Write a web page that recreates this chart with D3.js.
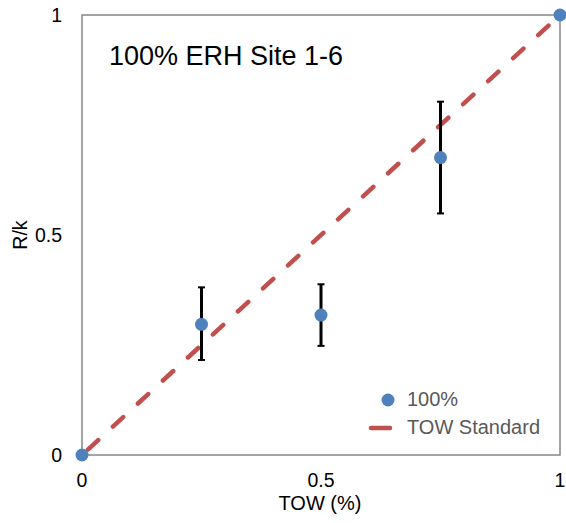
<!doctype html>
<html lang="en">
<head>
    <meta charset="UTF-8">
    <title>d3</title>
    <script src="https://d3js.org/d3.v7.min.js"></script>
    <style>
        body { margin: 0; background: #fff; }
        text { font-family: "Liberation Sans", Arial, sans-serif; fill: #000; }
    </style>
</head>
<body>
<div class="canvas"></div>
</body>

<script>
  // data
  const tow = [0, 0.25, 0.5, 0.75, 1];
  const rk = [0, 0.297, 0.318, 0.676, 1];
  const rkHigh = [null, 0.381, 0.388, 0.803, null];
  const rkLow = [null, 0.216, 0.248, 0.549, null];
  const standardX = [0, 1];
  const standardY = [0, 1];
  const ticks = [0, 0.5, 1];

  const svg = d3.select('.canvas')
    .append('svg')
    .attr('width', 566)
    .attr('height', 523)

  const x = d3.scaleLinear().domain([0, 1]).range([82, 560]);
  const y = d3.scaleLinear().domain([0, 1]).range([455, 15]);

  // plot frame
  svg.append('rect')
    .attr('x', x(0)).attr('y', y(1))
    .attr('width', x(1) - x(0)).attr('height', y(0) - y(1))
    .attr('fill', 'none')
    .attr('stroke', '#878787')
    .attr('stroke-width', 1.5)

  // tick labels
  svg.selectAll('.xt')
    .data(ticks)
    .join('text')
    .attr('class', 'xt')
    .attr('x', d => x(d))
    .attr('y', 487)
    .attr('text-anchor', 'middle')
    .attr('font-size', '19.5px')
    .text(d => d)

  svg.selectAll('.yt')
    .data(ticks)
    .join('text')
    .attr('class', 'yt')
    .attr('x', 62)
    .attr('y', d => y(d) + 7)
    .attr('text-anchor', 'end')
    .attr('font-size', '19.5px')
    .text(d => d)

  svg.append('text')
    .attr('x', 320).attr('y', 510)
    .attr('text-anchor', 'middle')
    .attr('font-size', '20px')
    .text('TOW (%)')

  svg.append('text')
    .attr('transform', 'translate(27,235) rotate(-90)')
    .attr('text-anchor', 'middle')
    .attr('font-size', '19.5px')
    .text('R/k')

  // title
  svg.append('text')
    .attr('x', 109).attr('y', 65)
    .attr('font-size', '27px')
    .text('100% ERH Site 1-6')

  // TOW standard line
  const line = d3.line().x(d => x(d[0])).y(d => y(d[1]));
  svg.append('path')
    .attr('d', line(d3.zip(standardX, standardY)))
    .attr('fill', 'none')
    .attr('stroke', '#C0504D')
    .attr('stroke-width', 4.5)
    .attr('stroke-linecap', 'round')
    .attr('stroke-dasharray', '14,20')
    .attr('stroke-dashoffset', -8)

  // error bars
  const pts = tow.map((t, i) => ({ t, v: rk[i], hi: rkHigh[i], lo: rkLow[i] }));
  const eb = svg.selectAll('.eb')
    .data(pts.filter(d => d.hi != null))
    .join('g')
    .attr('class', 'eb')
    .attr('stroke', '#000')
    .attr('stroke-width', 3)

  eb.append('line')
    .attr('x1', d => x(d.t)).attr('x2', d => x(d.t))
    .attr('y1', d => y(d.hi)).attr('y2', d => y(d.lo))
  eb.append('line')
    .attr('x1', d => x(d.t) - 3.5).attr('x2', d => x(d.t) + 3.5)
    .attr('y1', d => y(d.hi)).attr('y2', d => y(d.hi))
    .attr('stroke-width', 2)
  eb.append('line')
    .attr('x1', d => x(d.t) - 3.5).attr('x2', d => x(d.t) + 3.5)
    .attr('y1', d => y(d.lo)).attr('y2', d => y(d.lo))
    .attr('stroke-width', 2)

  // points
  svg.selectAll('.pt')
    .data(pts)
    .join('circle')
    .attr('class', 'pt')
    .attr('cx', d => x(d.t))
    .attr('cy', d => y(d.v))
    .attr('r', 6.5)
    .attr('fill', '#4F81BD')

  // legend
  svg.append('circle')
    .attr('cx', 388).attr('cy', 400).attr('r', 6.5)
    .attr('fill', '#4F81BD')
  svg.append('text')
    .attr('x', 407).attr('y', 406)
    .attr('font-size', '20px')
    .style('fill', '#595959')
    .text('100%')
  svg.append('line')
    .attr('x1', 371).attr('x2', 390)
    .attr('y1', 428).attr('y2', 428)
    .attr('stroke', '#C0504D')
    .attr('stroke-width', 4.5)
    .attr('stroke-linecap', 'round')
  svg.append('text')
    .attr('x', 407).attr('y', 434)
    .attr('font-size', '20px')
    .style('fill', '#595959')
    .text('TOW Standard')
</script>
</html>
